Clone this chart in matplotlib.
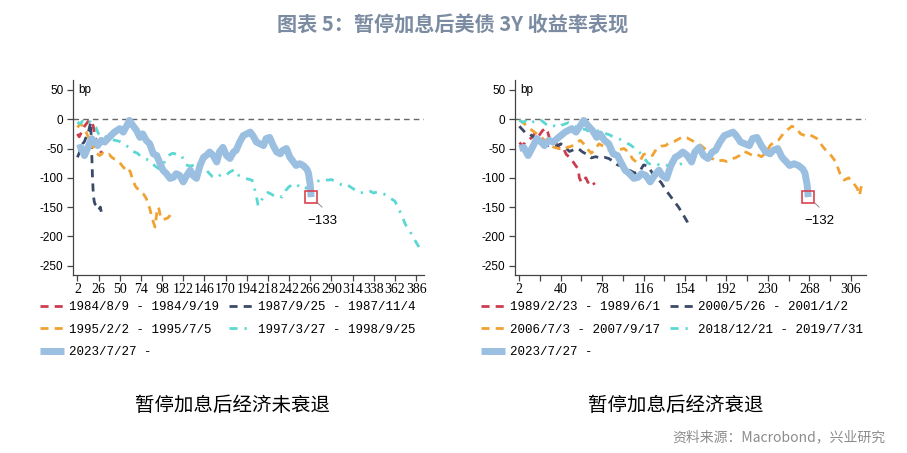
import matplotlib.pyplot as plt

plt.rcParams['font.family'] = ['Liberation Sans', 'Noto Sans CJK SC']
plt.rcParams['axes.unicode_minus'] = False

# 暂停加息后经济未衰退 (左图)
x1984 = [2, 4, 6, 8, 10, 12, 14, 16, 18, 20, 22, 24, 26, 28, 30]
y1984 = [-25, -30, -24, -18, -12, -8, -4, -2, -3, -12, -28, -42, -50, -55, -57]

x1987 = [2, 4, 6, 8, 10, 12, 14, 16, 17, 18, 19, 20, 21, 22, 24, 26, 28, 29]
y1987 = [-65, -58, -50, -42, -38, -30, -25, -12, -5, -45, -95, -128, -140, -145, -148, -155, -150, -158]

x1995 = [2, 4, 6, 8, 10, 12, 14, 16, 18, 20, 22, 24, 27, 31, 35, 38, 41, 44, 47, 50, 53, 56,
         59, 62, 65, 68, 71, 74, 77, 80, 82, 84, 86, 88, 90, 92, 94, 96, 99, 102, 105, 107, 109]
y1995 = [-14, -10, -8, -12, -16, -22, -30, -35, -48, -45, -55, -58, -62, -58, -62, -60, -65, -68,
         -70, -74, -80, -85, -82, -90, -105, -115, -120, -125, -128, -135, -145, -152, -165, -175,
         -184, -160, -150, -165, -172, -170, -168, -164, -158]

x1997 = [2, 5, 8, 11, 14, 17, 20, 23, 26, 29, 32, 36, 40, 45, 50, 55, 60, 65, 70, 75, 80, 85, 90,
         95, 100, 105, 110, 115, 120, 125, 130, 135, 140, 145, 150, 155, 160, 165, 170, 175, 180,
         185, 190, 195, 200, 204, 207, 210, 214, 218, 222, 226, 230, 234, 238, 242, 246, 250, 254,
         258, 262, 266, 270, 274, 278, 282, 286, 290, 294, 298, 302, 306, 310, 314, 318, 322, 326,
         330, 334, 338, 342, 346, 350, 354, 358, 362, 366, 370, 374, 378, 382, 386, 390, 393]
y1997 = [-5, -8, -3, -6, -2, -5, -10, -14, -25, -30, -28, -32, -35, -36, -38, -42, -48, -55, -58,
         -65, -68, -72, -80, -85, -75, -62, -58, -60, -62, -78, -80, -78, -78, -80, -90, -98, -100,
         -94, -96, -90, -86, -96, -100, -102, -104, -125, -148, -140, -130, -125, -128, -132, -130,
         -133, -122, -115, -112, -110, -116, -114, -118, -112, -108, -106, -104, -102, -104, -103,
         -106, -110, -112, -110, -114, -118, -122, -126, -125, -122, -123, -126, -124, -125, -128,
         -132, -136, -140, -152, -165, -180, -188, -200, -210, -220, -228]

# 2023/7/27 - (两图共用)
x2023 = [2, 6, 10, 14, 18, 22, 25, 29, 33, 38, 44, 50, 54, 58, 61, 65, 69, 73, 76, 80, 84, 88, 92,
         95, 99, 103, 107, 111, 114, 118, 122, 126, 130, 133, 137, 141, 145, 148, 152, 156, 160,
         163, 167, 171, 175, 179, 182, 186, 190, 194, 198, 201, 205, 209, 213, 216, 220, 224, 228,
         232, 235, 239, 243, 247, 250, 254, 258, 262, 264, 266, 267]
y2023 = [-50, -48, -62, -48, -33, -39, -45, -36, -39, -31, -22, -16, -22, -11, -2, -11, -19, -31,
         -25, -36, -42, -59, -62, -73, -87, -93, -101, -99, -93, -96, -107, -96, -87, -96, -101,
         -79, -65, -62, -56, -62, -73, -56, -48, -62, -67, -56, -53, -39, -28, -25, -22, -28, -39,
         -42, -45, -33, -31, -45, -56, -59, -53, -50, -65, -73, -79, -76, -79, -85, -92, -112, -133]
end_labels = [-133, -132]

# 暂停加息后经济衰退 (右图)
x1989 = [2, 5, 8, 11, 14, 17, 20, 23, 26, 28, 30, 33, 36, 39, 42, 45, 48, 51, 54, 56, 57, 59, 61,
         63, 65, 67, 69, 71]
y1989 = [-40, -45, -38, -35, -30, -22, -28, -20, -15, -22, -35, -38, -42, -50, -48, -60, -65, -72,
         -80, -85, -100, -108, -103, -100, -108, -104, -106, -112]

x2000 = [2, 5, 8, 12, 16, 20, 24, 28, 32, 36, 40, 44, 48, 52, 56, 60, 64, 68, 72, 76, 80, 84, 88,
         92, 96, 100, 104, 108, 112, 116, 120, 124, 128, 132, 136, 140, 144, 148, 152, 156, 158]
y2000 = [-12, -18, -24, -26, -32, -35, -38, -45, -44, -46, -42, -48, -55, -52, -50, -56, -60, -66,
         -64, -66, -65, -67, -72, -78, -80, -85, -88, -92, -90, -78, -80, -92, -100, -108, -120,
         -130, -140, -150, -162, -175, -185]

x2006 = [2, 5, 9, 13, 18, 22, 26, 30, 34, 38, 42, 46, 50, 54, 58, 61, 65, 68, 72, 75, 78, 82, 86,
         90, 94, 98, 102, 106, 110, 113, 116, 120, 124, 128, 132, 136, 140, 144, 148, 152, 156,
         160, 164, 168, 172, 176, 180, 184, 188, 192, 196, 200, 204, 208, 212, 216, 220, 224, 228,
         232, 236, 240, 244, 248, 252, 256, 260, 264, 268, 272, 276, 280, 284, 288, 292, 296, 300,
         304, 308, 312, 314, 316, 319]
y2006 = [-2, -5, -12, -18, -25, -30, -38, -45, -48, -50, -52, -48, -46, -40, -36, -42, -52, -58,
         -50, -42, -45, -50, -55, -58, -52, -50, -56, -68, -74, -70, -60, -58, -62, -50, -46, -45,
         -40, -38, -34, -30, -32, -36, -40, -44, -50, -66, -68, -72, -70, -72, -68, -66, -62, -55,
         -58, -62, -60, -64, -58, -45, -38, -35, -25, -18, -12, -15, -25, -28, -26, -30, -34, -46,
         -55, -62, -72, -92, -104, -100, -108, -118, -130, -112, -110]

x2018 = [2, 5, 8, 11, 14, 17, 20, 23, 26, 29, 32, 35, 38, 41, 44, 47, 50, 53, 56, 59, 62, 65, 68,
         71, 74, 77, 80, 84, 88, 92, 96, 100, 104, 108, 112, 116, 120, 124, 128, 132, 136, 140,
         144, 148, 152, 156]
y2018 = [-2, -5, -3, -8, -5, -2, 0, -3, -8, -12, -10, -12, -14, -10, -8, -6, -10, -12, -15, -18,
         -17, -20, -18, -16, -20, -22, -24, -26, -30, -32, -36, -40, -44, -50, -56, -65, -75, -78,
         -76, -80, -78, -80, -76, -78, -75, -77]

y_ticks = [50, 0, -50, -100, -150, -200, -250]

red, navy, orange, cyan, blue = '#cc3d4f', '#3a4a68', '#f0a232', '#5cd8d2', '#9bbfe0'
dash = (0, (2.9, 2.2))
dashdot = (0, (2.9, 2.5, 0.8, 2.5))

fig = plt.figure(figsize=(9.07, 4.53), dpi=100)
ax1 = fig.add_axes([73 / 907, 1 - 275 / 453, 351 / 907, 195 / 453])
ax2 = fig.add_axes([515 / 907, 1 - 275 / 453, 351 / 907, 195 / 453])


def style_axis(ax, xlim, major, minor):
    ax.set_xlim(*xlim)
    ax.set_ylim(-266, 67)
    for s in ('top', 'right'):
        ax.spines[s].set_visible(False)
    for s in ('left', 'bottom'):
        ax.spines[s].set_color('#444444')
        ax.spines[s].set_linewidth(0.9)
    ax.set_yticks(y_ticks)
    ax.set_xticks(major)
    ax.set_xticks(minor, minor=True)
    ax.tick_params(which='both', direction='out', length=4, width=0.9, color='#444444')
    ax.tick_params(axis='y', labelsize=8.5, pad=3)
    for lab in ax.get_xticklabels():
        lab.set_fontfamily('Liberation Serif')
        lab.set_fontsize(10)
    ax.tick_params(axis='x', pad=2)
    ax.axhline(0, color='#666666', lw=1, ls=(0, (4, 3)), zorder=1)
    ax.text(0.014, 0.95, 'bp', transform=ax.transAxes, fontsize=8.5, va='center')


def mark_end(ax, label):
    ax.plot(x2023[-1], y2023[-1], marker='s', ms=9, mfc='none', mec='#d9434e', mew=1.2, zorder=6)
    ax.annotate('', xy=(x2023[-1], y2023[-1]), xytext=(11, -10), textcoords='offset pixels',
                arrowprops=dict(arrowstyle='-', color='#888888', lw=0.7, shrinkA=0, shrinkB=6))
    ax.annotate('\u2212' + str(abs(label)), xy=(x2023[-1], y2023[-1]), xytext=(11, -23.5),
                textcoords='offset pixels', ha='center', va='center', fontsize=9.5)


# 左图
ax1.plot(x1984, y1984, color=red, lw=2, ls=dash, label='1984/8/9 - 1984/9/19')
ax1.plot(x1987, y1987, color=navy, lw=2, ls=dash, label='1987/9/25 - 1987/11/4')
ax1.plot(x1995, y1995, color=orange, lw=2, ls=dash, label='1995/2/2 - 1995/7/5')
ax1.plot(x1997, y1997, color=cyan, lw=2, ls=dashdot, label='1997/3/27 - 1998/9/25')
ax1.plot(x2023, y2023, color=blue, lw=5, solid_capstyle='butt', label='2023/7/27 -')
style_axis(ax1, (-3, 395), list(range(2, 387, 24)), [])
mark_end(ax1, end_labels[0])

# 右图
ax2.plot(x1989, y1989, color=red, lw=2, ls=dash, label='1989/2/23 - 1989/6/1')
ax2.plot(x2000, y2000, color=navy, lw=2, ls=dash, label='2000/5/26 - 2001/1/2')
ax2.plot(x2006, y2006, color=orange, lw=2, ls=dash, label='2006/7/3 - 2007/9/17')
ax2.plot(x2018, y2018, color=cyan, lw=2, ls=dashdot, label='2018/12/21 - 2019/7/31')
ax2.plot(x2023, y2023, color=blue, lw=5, solid_capstyle='butt', label='2023/7/27 -')
style_axis(ax2, (-2, 320), list(range(2, 307, 38)), list(range(21, 307, 38)))
mark_end(ax2, end_labels[1])

order = [0, 2, 4, 1, 3]
for ax, lx in ((ax1, 40), (ax2, 481)):
    h, l = ax.get_legend_handles_labels()
    ax.legend([h[i] for i in order], [l[i] for i in order], loc='upper left',
              bbox_to_anchor=(lx / 907, 1 - 301 / 453), bbox_transform=fig.transFigure,
              ncol=2, frameon=False, prop={'family': 'Liberation Mono', 'size': 9},
              handlelength=1.9, handletextpad=0.4, columnspacing=0.8, labelspacing=0.85,
              borderpad=0, borderaxespad=0)

fig.text(453 / 907, 1 - 25 / 453, '图表 5：暂停加息后美债 3Y 收益率表现', ha='center', va='center',
         fontsize=14.5, fontweight='bold', color='#7b8ba1', family=['Noto Sans CJK SC'])
fig.text(232 / 907, 1 - 405 / 453, '暂停加息后经济未衰退', ha='center', va='center',
         fontsize=14, family=['Noto Sans CJK SC'])
fig.text(676 / 907, 1 - 405 / 453, '暂停加息后经济衰退', ha='center', va='center',
         fontsize=14, family=['Noto Sans CJK SC'])
fig.text(885 / 907, 1 - 437 / 453, '资料来源：Macrobond，兴业研究', ha='right', va='center',
         fontsize=10, color='#8c8c8c', family=['Noto Sans CJK SC'])

fig.savefig('out.png', dpi=100)
